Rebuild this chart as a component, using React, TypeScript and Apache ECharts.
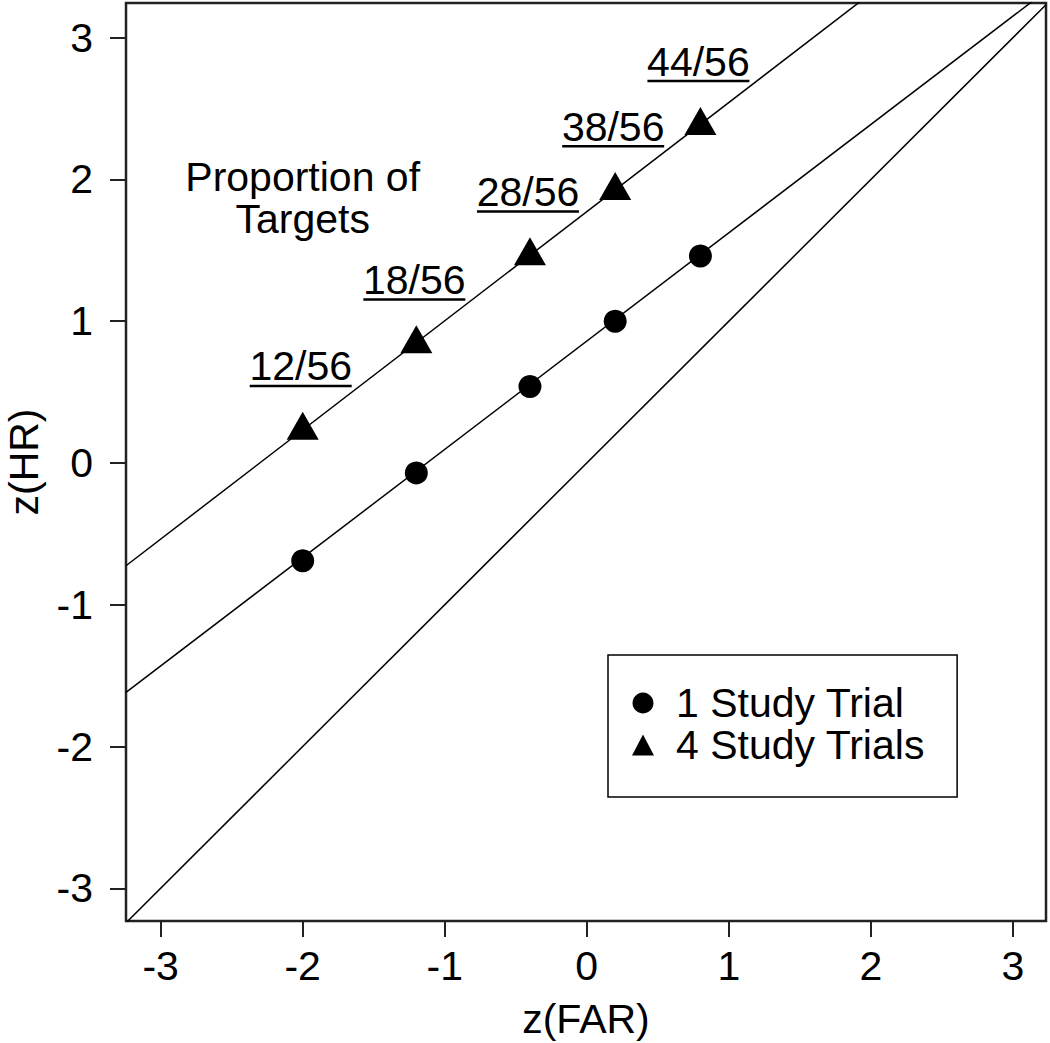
import React, { useEffect, useRef } from "react";
import * as echarts from "echarts";

// ---- data ----
const farZ = [-2, -1.2, -0.4, 0.2, 0.8];
const hrOneTrial = [-0.69, -0.07, 0.54, 1.0, 1.46];
const hrFourTrials = [0.23, 0.84, 1.46, 1.92, 2.38];
const targetProportions = ["12/56", "18/56", "28/56", "38/56", "44/56"];
const tickValues = [-3, -2, -1, 0, 1, 2, 3];
// fitted lines: one study trial, four study trials, chance diagonal
const fitSlopes = [0.764, 0.77, 1];
const fitIntercepts = [0.86, 1.773, 0];
const seriesNames = ["1 Study Trial", "4 Study Trials"];
const xRange = [-3.244, 3.233];
const yRange = [-3.231, 3.245];
const noteText = "Proportion of\nTargets";
const noteAt = [-2, 1.87];
const xTitle = "z(FAR)";
const yTitle = "z(HR)";

export default function App() {
  const ref = useRef<HTMLDivElement>(null);

  useEffect(() => {
    const chart = echarts.init(ref.current!, null, { renderer: "svg" });
    const font = "'Liberation Sans', Arial, Helvetica, sans-serif";
    const fs = 41;
    const axisColor = "#222";

    const fitLines = fitSlopes.map((m, i) => ({
      type: "line",
      name: "fit" + i,
      silent: true,
      symbol: "none",
      clip: true,
      z: 1,
      legendHoverLink: false,
      lineStyle: { color: "#000", width: 1.5 },
      data: xRange.map((x) => [x, fitIntercepts[i] + m * x]),
    }));

    const axisCommon = {
      type: "value",
      splitLine: { show: false },
      axisLine: { show: false, onZero: false },
      axisTick: {
        show: true,
        length: 16,
        inside: false,
        lineStyle: { color: axisColor, width: 2 },
        customValues: tickValues,
      },
    };

    chart.setOption({
      animation: false,
      backgroundColor: "#fff",
      grid: {
        left: 126,
        top: 3,
        width: 920,
        height: 918,
        show: true,
        borderColor: axisColor,
        borderWidth: 2.5,
        backgroundColor: "transparent",
      },
      xAxis: {
        ...axisCommon,
        min: xRange[0],
        max: xRange[1],
        axisLabel: {
          customValues: tickValues,
          margin: 24,
          fontSize: fs,
          fontFamily: font,
          color: "#000",
        },
      },
      yAxis: {
        ...axisCommon,
        min: yRange[0],
        max: yRange[1],
        axisLabel: {
          customValues: tickValues,
          margin: 33,
          fontSize: fs,
          fontFamily: font,
          color: "#000",
        },
      },
      legend: {
        data: [
          { name: seriesNames[0], icon: "circle" },
          { name: seriesNames[1], icon: "triangle" },
        ],
        orient: "vertical",
        left: 608,
        top: 655,
        padding: [27, 32, 31, 24],
        itemWidth: 22,
        itemHeight: 21,
        itemGap: 0,
        borderColor: "#000",
        borderWidth: 1.5,
        borderRadius: 0,
        selectedMode: false,
        itemStyle: { opacity: 1 },
        textStyle: {
          fontSize: fs,
          fontFamily: font,
          color: "#000",
          lineHeight: 42,
          padding: [0, 0, 0, 17],
        },
      },
      series: [
        ...fitLines,
        {
          type: "scatter",
          name: seriesNames[0],
          symbol: "circle",
          symbolSize: 23,
          z: 3,
          itemStyle: { color: "#000", opacity: 1 },
          data: farZ.map((x, i) => [x, hrOneTrial[i]]),
        },
        {
          type: "scatter",
          name: seriesNames[1],
          symbol: "triangle",
          symbolSize: [32, 28],
          symbolOffset: [0, -4.7],
          z: 3,
          itemStyle: { color: "#000", opacity: 1 },
          data: farZ.map((x, i) => [x, hrFourTrials[i]]),
        },
      ],
    });

    const px = (x: number, y: number) =>
      chart.convertToPixel({ gridIndex: 0 }, [x, y]) as number[];

    const graphics: any[] = [];
    targetProportions.forEach((t, i) => {
      const p = px(farZ[i], hrFourTrials[i]);
      const cx = p[0] - 2;
      graphics.push({
        type: "text",
        z: 10,
        style: {
          text: t,
          x: cx,
          y: p[1] - 64,
          font: `${fs}px ${font}`,
          textAlign: "center",
          textVerticalAlign: "middle",
          fill: "#000",
        },
      });
      graphics.push({
        type: "line",
        z: 10,
        shape: { x1: cx - 51, y1: p[1] - 44.5, x2: cx + 51, y2: p[1] - 44.5 },
        style: { stroke: "#000", lineWidth: 2.5 },
      });
    });

    const np = px(noteAt[0], noteAt[1]);
    graphics.push({
      type: "text",
      z: 10,
      style: {
        text: noteText,
        x: np[0],
        y: np[1],
        font: `${fs}px ${font}`,
        lineHeight: 42,
        textAlign: "center",
        textVerticalAlign: "middle",
        fill: "#000",
      },
    });

    graphics.push({
      type: "text",
      z: 10,
      style: {
        text: xTitle,
        x: 126 + 920 / 2,
        y: 1019,
        font: `${fs}px ${font}`,
        textAlign: "center",
        textVerticalAlign: "middle",
        fill: "#000",
      },
    });
    graphics.push({
      type: "text",
      z: 10,
      x: 24,
      y: 3 + 918 / 2,
      rotation: Math.PI / 2,
      style: {
        text: yTitle,
        x: 0,
        y: 0,
        font: `${fs}px ${font}`,
        textAlign: "center",
        textVerticalAlign: "middle",
        fill: "#000",
      },
    });

    chart.setOption({ graphic: graphics });

    return () => chart.dispose();
  }, []);

  return (
    <div
      ref={ref}
      style={{ position: "absolute", left: 0, top: 0, width: 1050, height: 1043 }}
    />
  );
}
